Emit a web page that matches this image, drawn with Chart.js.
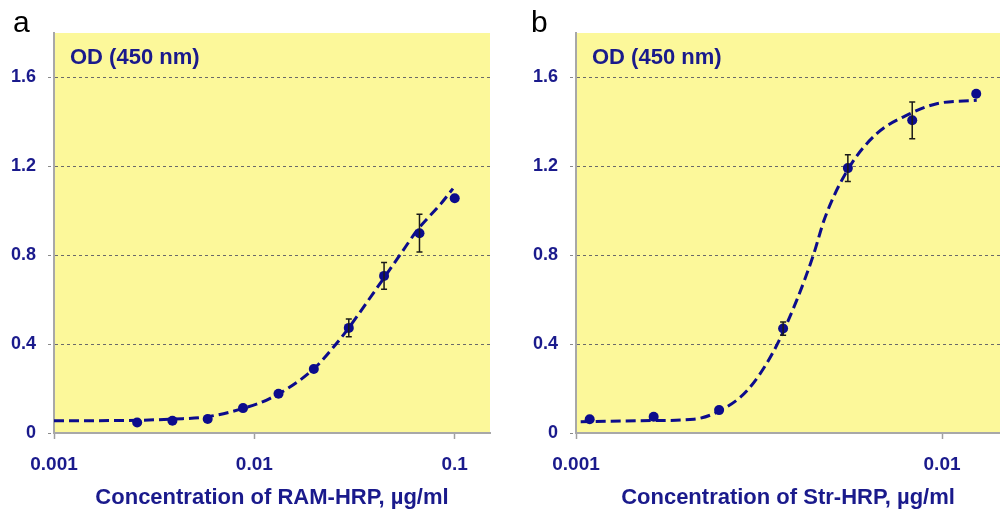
<!DOCTYPE html>
<html>
<head>
<meta charset="utf-8">
<script src="https://cdn.jsdelivr.net/npm/chart.js@4/dist/chart.umd.min.js"></script>
<style>
  html, body { margin: 0; padding: 0; background: #ffffff; }
  #wrap { position: relative; width: 1000px; height: 513px; overflow: hidden; }
  canvas { position: absolute; top: 0; }
  #chartA { left: 0; }
  #chartB { left: 500px; }
</style>
</head>
<body>
<div id="wrap">
  <canvas id="chartA" width="500" height="513"></canvas>
  <canvas id="chartB" width="500" height="513"></canvas>
</div>
<script>
// panel a - RAM-HRP
const concA = [0.0026, 0.0039, 0.00585, 0.00878, 0.0132, 0.0198, 0.0296, 0.0444, 0.0667, 0.1];
const odA = [0.047, 0.055, 0.063, 0.112, 0.177, 0.288, 0.473, 0.707, 0.899, 1.056];
const errA = [0, 0, 0, 0, 0, 0, 0.04, 0.06, 0.085, 0];
// dashed fit curve
const curveXA = [0.001, 0.002, 0.0026, 0.004, 0.0058, 0.0088, 0.012, 0.0196, 0.0257, 0.0294, 0.04, 0.0532, 0.0653, 0.085, 0.098];
const curveYA = [0.055, 0.056, 0.057, 0.063, 0.073, 0.111, 0.156, 0.285, 0.403, 0.47, 0.64, 0.80, 0.915, 1.03, 1.10];

// panel b - Str-HRP
const concB = [0.00109, 0.00163, 0.00246, 0.00368, 0.00553, 0.00829, 0.0124];
const odB = [0.062, 0.073, 0.103, 0.47, 1.192, 1.407, 1.527];
const errB = [0, 0, 0, 0.03, 0.06, 0.083, 0];
const curveXB = [0.00103, 0.00163, 0.0021, 0.00247, 0.00293, 0.00346, 0.00401, 0.00445, 0.00479, 0.00555, 0.00663, 0.00818, 0.00967, 0.01244];
const curveYB = [0.051, 0.056, 0.062, 0.10, 0.19, 0.365, 0.598, 0.80, 0.97, 1.19, 1.347, 1.437, 1.482, 1.497];

const yTicks = [0, 0.4, 0.8, 1.2, 1.6];
const xTicksA = [0.001, 0.01, 0.1];
const xTicksB = [0.001, 0.01];

const navy = "#0c0c8c";
const textBlue = "#1a1a8c";
const yellow = "#fcf89a";

const toXY = (xs, ys) => xs.map((x, i) => ({ x: x, y: ys[i] }));

// yellow plot area + panel letter + "OD (450 nm)" + error bars
const panelPlugin = {
  id: "panel",
  beforeDraw(chart, args, opts) {
    const { ctx, chartArea } = chart;
    ctx.save();
    ctx.fillStyle = "#ffffff";
    ctx.fillRect(0, 0, chart.width, chart.height);
    ctx.fillStyle = yellow;
    ctx.fillRect(chartArea.left, chartArea.top, chartArea.right - chartArea.left, chartArea.bottom - chartArea.top);
    ctx.restore();
  },
  afterDatasetsDraw(chart, args, opts) {
    const { ctx, chartArea } = chart;
    const xs = chart.scales.x, ys = chart.scales.y;
    ctx.save();
    // error bars
    ctx.strokeStyle = "#1a1a1a";
    ctx.lineWidth = 1.5;
    opts.conc.forEach((c, i) => {
      const e = opts.err[i];
      if (!e) return;
      const px = xs.getPixelForValue(c);
      const top = ys.getPixelForValue(opts.od[i] + e);
      const bot = ys.getPixelForValue(opts.od[i] - e);
      ctx.beginPath();
      ctx.moveTo(px, top); ctx.lineTo(px, bot);
      ctx.moveTo(px - 3, top); ctx.lineTo(px + 3, top);
      ctx.moveTo(px - 3, bot); ctx.lineTo(px + 3, bot);
      ctx.stroke();
    });
    // axis caption inside the plot
    ctx.fillStyle = textBlue;
    ctx.font = "bold 22px 'Liberation Sans', Arial, sans-serif";
    ctx.textBaseline = "alphabetic";
    ctx.textAlign = "left";
    ctx.fillText("OD (450 nm)", chartArea.left + 16, 64);
    // panel letter
    ctx.fillStyle = "#000000";
    ctx.font = "30px 'Liberation Sans', Arial, sans-serif";
    ctx.fillText(opts.letter, opts.letterX, 32);
    ctx.restore();
  }
};

function makeChart(id, cfg) {
  return new Chart(document.getElementById(id), {
    type: "scatter",
    plugins: [panelPlugin],
    data: {
      datasets: [
        {
          data: toXY(cfg.conc, cfg.od),
          pointRadius: 5,
          pointBackgroundColor: navy,
          pointBorderWidth: 0,
          showLine: false
        },
        {
          data: toXY(cfg.curveX, cfg.curveY),
          showLine: true,
          pointRadius: 0,
          borderColor: navy,
          borderWidth: 3,
          borderDash: [10, 5],
          cubicInterpolationMode: "monotone",
          fill: false
        }
      ]
    },
    options: {
      responsive: false,
      animation: false,
      layout: { autoPadding: false, padding: { top: 33, right: cfg.padRight, left: 0, bottom: 0 } },
      plugins: {
        legend: { display: false },
        tooltip: { enabled: false },
        panel: { conc: cfg.conc, od: cfg.od, err: cfg.err, letter: cfg.letter, letterX: cfg.letterX }
      },
      scales: {
        x: {
          type: "logarithmic",
          min: 0.001,
          max: cfg.xMax,
          afterBuildTicks: (s) => { s.ticks = cfg.xTicks.map(v => ({ value: v })); },
          afterFit: (s) => { s.height = 80; s.paddingLeft = 0; s.paddingRight = 0; },
          ticks: {
            callback: (v) => String(v),
            autoSkip: false,
            maxRotation: 0,
            padding: 14,
            color: textBlue,
            font: { family: "'Liberation Sans', Arial, sans-serif", size: 19, weight: "bold" }
          },
          grid: { drawOnChartArea: false, drawTicks: true, tickLength: 6, tickColor: "#a0a0a0", tickWidth: 1.5 },
          border: { display: true, color: "#a8a8a8", width: 2 },
          title: {
            display: true,
            text: cfg.xTitle,
            color: textBlue,
            padding: { top: 0, bottom: 2 },
            font: { family: "'Liberation Sans', Arial, sans-serif", size: 22, weight: "bold" }
          }
        },
        y: {
          min: 0,
          max: 1.8,
          afterBuildTicks: (s) => { s.ticks = yTicks.map(v => ({ value: v })); },
          afterFit: (s) => { s.width = cfg.yWidth; s.paddingTop = 0; s.paddingBottom = 0; },
          ticks: {
            callback: (v) => v === 0 ? "0" : v.toFixed(1),
            padding: 12,
            color: textBlue,
            font: { family: "'Liberation Sans', Arial, sans-serif", size: 18, weight: "bold" }
          },
          grid: {
            color: (c) => c.tick && c.tick.value === 0 ? "rgba(0,0,0,0)" : "#6a6a6a",
            lineWidth: 1,
            tickLength: 6,
            tickColor: "#8a8a8a",
            tickBorderDash: [3, 3]
          },
          border: { display: true, color: "#a8a8a8", width: 2, dash: [3, 3] }
        }
      }
    }
  });
}

makeChart("chartA", {
  conc: concA, od: odA, err: errA, curveX: curveXA, curveY: curveYA,
  xTicks: xTicksA, xMax: 0.15, yWidth: 54, padRight: 10,
  xTitle: "Concentration of RAM-HRP, µg/ml", letter: "a", letterX: 13
});
makeChart("chartB", {
  conc: concB, od: odB, err: errB, curveX: curveXB, curveY: curveYB,
  xTicks: xTicksB, xMax: 0.0144, yWidth: 76, padRight: 0,
  xTitle: "Concentration of Str-HRP, µg/ml", letter: "b", letterX: 31
});
</script>
</body>
</html>
